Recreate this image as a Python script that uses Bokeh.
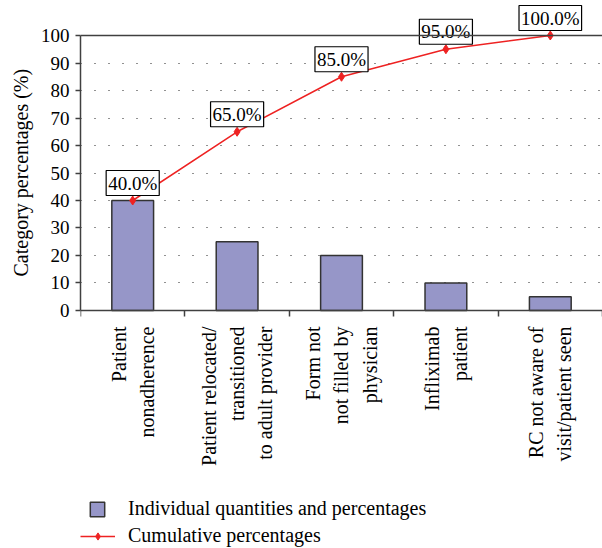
import math
from bokeh.plotting import figure
from bokeh.models import (Range1d, FixedTicker, Label, Legend, LegendItem, Span,
                          ColumnDataSource, Title)
from bokeh.embed import file_html
from bokeh.resources import INLINE

categories = [
    "Patient\nnonadherence",
    "Patient relocated/\ntransitioned\nto adult provider",
    "Form not\nnot filled by\nphysician",
    "Infliximab\npatient",
    "RC not aware of\nvisit/patient seen",
]
individual = [40, 25, 20, 10, 5]
cumulative = [40, 65, 85, 95, 100]
cum_labels = ["40.0%", "65.0%", "85.0%", "95.0%", "100.0%"]
y_ticks = [0, 10, 20, 30, 40, 50, 60, 70, 80, 90, 100]
series_names = ["Individual quantities and percentages", "Cumulative percentages"]
y_title = "Category percentages (%)"

FONT = "Liberation Serif"
BAR = "#9696c8"
EDGE = "#333333"
RED = "#ee2222"
AX = "#404040"

xs = list(range(1, len(categories) + 1))
src = ColumnDataSource(dict(x=xs, ind=individual, cum=cumulative))

# frame fills the figure below/above the axes; x axis is pinned at y = 0
p = figure(width=602, height=548, x_range=Range1d(0.5, len(categories) + 0.5),
           y_range=Range1d(-86.55, 112.73), output_backend="svg", toolbar_location=None,
           min_border_left=80, min_border_right=0, min_border_top=0, min_border_bottom=0)
p.outline_line_color = None
p.background_fill_color = "white"
p.border_fill_color = "white"

bars = p.vbar(x="x", top="ind", width=0.4, source=src, fill_color=BAR,
              line_color=EDGE, line_width=1.5)
line = p.line(x="x", y="cum", source=src, line_color=RED, line_width=1.5)
pts = p.scatter(x="x", y="cum", source=src, marker="diamond", size=9,
                fill_color=RED, line_color=RED)

for xv, yv, t in zip(xs, cumulative, cum_labels):
    p.add_layout(Label(x=xv, y=yv, text=t, y_offset=5, text_align="center",
                       text_baseline="bottom", text_font=FONT, text_font_size="19px",
                       text_color="black", background_fill_color="white",
                       border_line_color="black", border_line_width=1.2, padding=2))

p.add_layout(Span(location=100, dimension="width", line_color=AX, line_width=1.5))

# x axis
p.xaxis.fixed_location = 0
p.xaxis.ticker = FixedTicker(ticks=xs, minor_ticks=[x + 0.5 for x in [0] + xs])
p.xaxis.major_label_overrides = {x: c for x, c in zip(xs, categories)}
p.xaxis.major_label_orientation = math.pi / 2
p.xaxis.major_tick_line_color = None
p.xaxis.major_tick_out = 0
p.xaxis.major_tick_in = 0
p.xaxis.minor_tick_out = 6
p.xaxis.minor_tick_in = 0
p.xaxis.minor_tick_line_color = AX
p.xaxis.minor_tick_line_width = 1.5
p.xaxis.major_label_standoff = 10
p.xaxis.major_label_text_font = FONT
p.xaxis.major_label_text_font_size = "20px"
p.xaxis.major_label_text_color = "black"
p.xaxis.major_label_text_line_height = 1.28
p.xaxis.axis_line_color = AX
p.xaxis.axis_line_width = 1.5

# y axis
p.yaxis.ticker = FixedTicker(ticks=y_ticks)
p.yaxis.bounds = (0, 100)
p.yaxis.major_label_text_font = FONT
p.yaxis.major_label_text_font_size = "19px"
p.yaxis.major_label_text_color = "black"
p.yaxis.major_label_standoff = 6
p.yaxis.major_tick_out = 5
p.yaxis.major_tick_in = 0
p.yaxis.minor_tick_line_color = None
p.yaxis.major_tick_line_color = AX
p.yaxis.major_tick_line_width = 1.5
p.yaxis.axis_line_color = AX
p.yaxis.axis_line_width = 1.5

p.add_layout(Title(text=y_title, align="left", offset=272, standoff=11,
                   text_font=FONT, text_font_size="20px", text_font_style="normal",
                   text_color="black"), "left")

p.xgrid.visible = False
p.ygrid.grid_line_color = "#222222"
p.ygrid.grid_line_dash = "1 13"
p.ygrid.grid_line_width = 1

common = dict(orientation="vertical", label_height=18, padding=0, margin=0,
              border_line_color=None, background_fill_alpha=0, label_text_font=FONT,
              label_text_font_size="20px", label_text_color="black")
leg1 = Legend(items=[LegendItem(label=series_names[0], renderers=[bars])],
              location=(8, 28), glyph_width=18, glyph_height=18, label_standoff=22,
              **common)
leg2 = Legend(items=[LegendItem(label=series_names[1], renderers=[line, pts])],
              location=(0, 1), glyph_width=35, glyph_height=18, label_standoff=13,
              **common)
p.add_layout(leg1)
p.add_layout(leg2)

open("out.html", "w").write(file_html(p, INLINE))
